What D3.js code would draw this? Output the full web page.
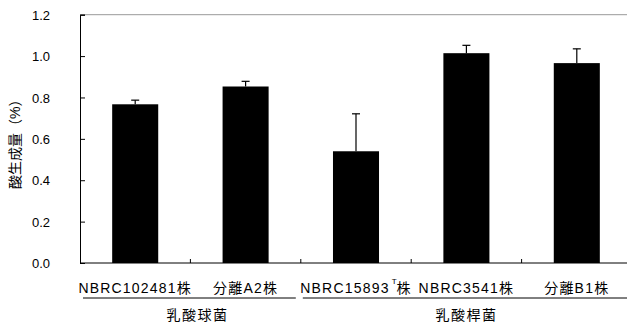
<!DOCTYPE html>
<html lang="ja">
<head>
<meta charset="UTF-8">
<script src="https://d3js.org/d3.v7.min.js"></script>
<style>
  body { margin: 0; background: #fff; }
  svg text { font-family: "Liberation Sans", "Noto Sans CJK JP", sans-serif; fill: #000; }
</style>
</head>
<body>
<div id="chart"></div>
<script>
// data
const strains = ["NBRC102481", "分離A2", "NBRC15893", "NBRC3541", "分離B1"];
const sups = ["", "", "T", "", ""];
const acid = [0.767, 0.853, 0.540, 1.014, 0.966];
const sd = [0.020, 0.025, 0.181, 0.038, 0.069];
const groups = ["乳酸球菌", "乳酸桿菌"];
const groupStart = [0, 2];
const groupEnd = [1, 4];
const yTicks = [0, 0.2, 0.4, 0.6, 0.8, 1.0, 1.2];

const w = 627, h = 322;
const mLeft = 80, mTop = 14.7, mBottom = 263;
const step = 110.4;

const svg = d3.select("#chart").append("svg")
  .attr("width", w).attr("height", h);

const x = d3.scaleBand()
  .domain(d3.range(strains.length))
  .range([mLeft, mLeft + step * strains.length])
  .paddingInner(0.583)
  .paddingOuter(0.2915);

const y = d3.scaleLinear().domain([0, 1.2]).range([mBottom, mTop]);

// top frame line (gray)
svg.append("line")
  .attr("x1", mLeft).attr("x2", w)
  .attr("y1", y(1.2)).attr("y2", y(1.2))
  .attr("stroke", "#999").attr("stroke-width", 1);

// y axis
const yAxis = svg.append("g")
  .attr("transform", `translate(${mLeft},0)`)
  .call(d3.axisRight(y).tickValues(yTicks).tickSize(5).tickFormat(d3.format(".1f")));
yAxis.select(".domain").attr("stroke", "#000");
yAxis.selectAll(".tick line").attr("stroke", "#000");
yAxis.selectAll(".tick text")
  .attr("x", -30).attr("text-anchor", "end")
  .attr("font-size", 13).attr("dy", "0.35em")
  .style("font-family", "Liberation Sans, sans-serif");

// y title
svg.append("text")
  .attr("transform", `translate(20,${(mTop + mBottom) / 2 + 2}) rotate(-90)`)
  .attr("text-anchor", "middle")
  .attr("font-size", 14)
  .text("酸生成量（%）");

// bars
svg.selectAll("rect.bar")
  .data(acid)
  .join("rect")
  .attr("class", "bar")
  .attr("x", (d, i) => x(i))
  .attr("width", x.bandwidth())
  .attr("y", d => y(d))
  .attr("height", d => mBottom - y(d))
  .attr("fill", "#000");

// error bars (upper only)
const eb = svg.selectAll("g.err")
  .data(acid.map((v, i) => ({ v, e: sd[i], i })))
  .join("g").attr("class", "err");
eb.append("line")
  .attr("x1", d => x(d.i) + x.bandwidth() / 2)
  .attr("x2", d => x(d.i) + x.bandwidth() / 2)
  .attr("y1", d => y(d.v)).attr("y2", d => y(d.v + d.e))
  .attr("stroke", "#000").attr("stroke-width", 1.2);
eb.append("line")
  .attr("x1", d => x(d.i) + x.bandwidth() / 2 - 4)
  .attr("x2", d => x(d.i) + x.bandwidth() / 2 + 4)
  .attr("y1", d => y(d.v + d.e)).attr("y2", d => y(d.v + d.e))
  .attr("stroke", "#000").attr("stroke-width", 1.2);

// x axis line and category boundary ticks
svg.append("line")
  .attr("x1", mLeft).attr("x2", w)
  .attr("y1", mBottom).attr("y2", mBottom)
  .attr("stroke", "#000").attr("stroke-width", 1);
svg.selectAll("line.bound")
  .data(d3.range(1, strains.length))
  .join("line").attr("class", "bound")
  .attr("x1", i => mLeft + step * i).attr("x2", i => mLeft + step * i)
  .attr("y1", mBottom).attr("y2", mBottom - 4)
  .attr("stroke", "#000");

// category labels
const lab = svg.selectAll("text.cat")
  .data(strains)
  .join("text").attr("class", "cat")
  .attr("x", (d, i) => x(i) + x.bandwidth() / 2)
  .attr("y", 293)
  .attr("text-anchor", "middle")
  .attr("font-size", 14)
  .attr("letter-spacing", 1.2);
lab.append("tspan").text(d => d);
lab.filter((d, i) => sups[i]).append("tspan")
  .attr("dx", 2).attr("font-size", 8).attr("dy", -9)
  .attr("letter-spacing", 0)
  .text(d => sups[strains.indexOf(d)]);
lab.filter((d, i) => sups[i]).append("tspan")
  .attr("dy", 9).attr("dx", 0).text("株");
lab.filter((d, i) => !sups[i]).append("tspan").text("株");

// group underlines and labels
svg.selectAll("line.grp")
  .data(groups)
  .join("line").attr("class", "grp")
  .attr("x1", (d, i) => i === 0 ? mLeft + 3 : mLeft + step * groupStart[i] + 2)
  .attr("x2", (d, i) => i === groups.length - 1 ? w : mLeft + step * (groupEnd[i] + 1) - 5)
  .attr("y1", 298).attr("y2", 298)
  .attr("stroke", "#000").attr("stroke-width", 1);
svg.selectAll("text.grp")
  .data(groups)
  .join("text").attr("class", "grp")
  .attr("x", (d, i) => (x(groupStart[i]) + x(groupEnd[i]) + x.bandwidth()) / 2 + (i === 0 ? 7 : 0))
  .attr("y", 320)
  .attr("text-anchor", "middle")
  .attr("font-size", 14)
  .attr("letter-spacing", 1.5)
  .text(d => d);
</script>
</body>
</html>
